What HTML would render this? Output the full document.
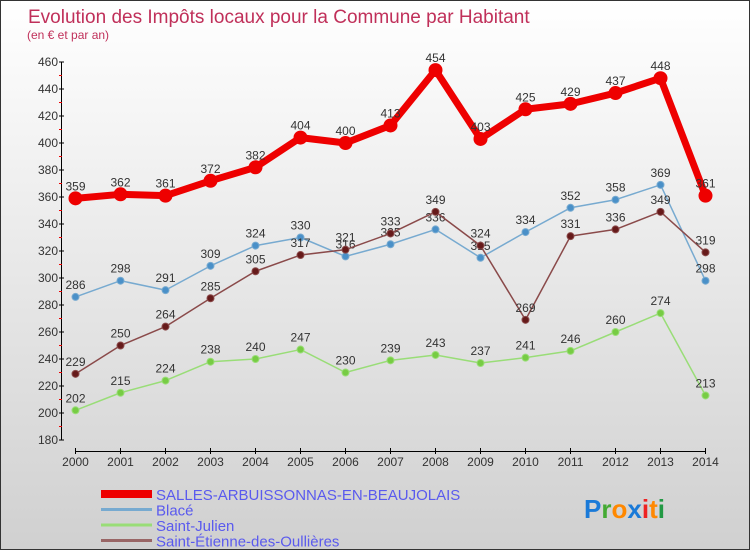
<!DOCTYPE html>
<html><head><meta charset="utf-8"><style>
body{margin:0}
#c{width:748px;height:548px;border:1px solid #333;background:linear-gradient(#ffffff,#d0d0d0);position:relative;overflow:hidden;font-family:"Liberation Sans",sans-serif}
</style></head><body>
<div id="c">
<svg id="s" width="748" height="548"></svg>
</div>
<script>
const years=[2000,2001,2002,2003,2004,2005,2006,2007,2008,2009,2010,2011,2012,2013,2014];
const salles=[359,362,361,372,382,404,400,413,454,403,425,429,437,448,361];
const blace=[286,298,291,309,324,330,316,325,336,315,334,352,358,369,298];
const julien=[202,215,224,238,240,247,230,239,243,237,241,246,260,274,213];
const etienne=[229,250,264,285,305,317,321,333,349,324,269,331,336,349,319];
const yTicks=[180,200,220,240,260,280,300,320,340,360,380,400,420,440,460];
const seriesNames=["SALLES-ARBUISSONNAS-EN-BEAUJOLAIS","Blacé","Saint-Julien","Saint-Étienne-des-Oullières"];
const NS="http://www.w3.org/2000/svg";
const s=document.getElementById('s');
const X=i=>74.5+i*45;
const Y=v=>439-(v-180)*(378/280);
function el(t,a,p){const e=document.createElementNS(NS,t);for(const k in a)e.setAttribute(k,a[k]);(p||s).appendChild(e);return e;}
function tx(x,y,str,a){const e=el('text',Object.assign({x:x,y:y},a));e.textContent=str;return e;}
let t=tx(27,22,"Evolution des Impôts locaux pour la Commune par Habitant",{'font-size':19,fill:'#c0305a'});

t=tx(26,38,"(en € et par an)",{'font-size':12,fill:'#c0305a'});

// y axis
let ax=el('line',{x1:60.5,y1:Y(460),x2:60.5,y2:Y(180),stroke:'#000'});

yTicks.forEach((v,i)=>{
 el('line',{x1:58,x2:63,y1:Y(v),y2:Y(v),stroke:'#000'});
 if(i<yTicks.length-1)el('line',{x1:58,x2:61,y1:Y(v+10),y2:Y(v+10),stroke:'#e00'});
 const l=tx(57,Y(v)+4,String(v),{'font-size':12,fill:'#333','text-anchor':'end'});
 
});
ax=el('line',{x1:X(0),y1:450.5,x2:X(14),y2:450.5,stroke:'#000'});

years.forEach((yr,i)=>{
 el('line',{x1:X(i),x2:X(i),y1:447,y2:453,stroke:'#000'});
 const l=tx(X(i),465,String(yr),{'font-size':12,fill:'#333','text-anchor':'middle'});
 
});
function series(data,color,dot,lw,r,name){
 const g=el('g',{});
 
 el('polyline',{points:data.map((v,i)=>X(i)+','+Y(v)).join(' '),fill:'none',stroke:color,'stroke-width':lw,'stroke-linejoin':'round'},g);
 data.forEach((v,i)=>{
  const c=el('circle',{cx:X(i),cy:Y(v),r:r,fill:dot,stroke:color,'stroke-width':1},g);
  
  const l=tx(X(i),Y(v)-8,String(v),{'font-size':12,fill:'#333','text-anchor':'middle'},g);
  
 });
}
series(julien,'#99dd77','#77cc44',1.5,3.5,'saint-julien-series');
series(blace,'#77aad0','#4a90c8',1.5,3.5,'blace-series');
series(etienne,'#8a4a4a','#661a1a',1.5,3.5,'saint-etienne-series');
series(salles,'#ee0000','#ee0000',7,6.5,'salles-series');
const lc=['#ee0000','#77aad0','#99dd77','#996666'];
const lw=[8,3,3,3];
seriesNames.forEach((n,i)=>{
 const y=493+i*15.5;
 const g=el('g',{});
 
 el('line',{x1:100,x2:151,y1:y,y2:y,stroke:lc[i],'stroke-width':lw[i]},g);
 tx(155,y+6,n,{'font-size':15,fill:'#5a5aee'},g);
});
const lg=el('text',{x:583,y:517,'font-size':26,'font-weight':'bold'});

[['P','#1a7ad8'],['r','#44aa33'],['o','#ff8800'],['x','#1a7ad8'],['i','#ee2222'],['t','#ff8800'],['i','#229944']].forEach(p=>{
 const ts=el('tspan',{fill:p[1]},lg);ts.textContent=p[0];
});
</script>
</body></html>
